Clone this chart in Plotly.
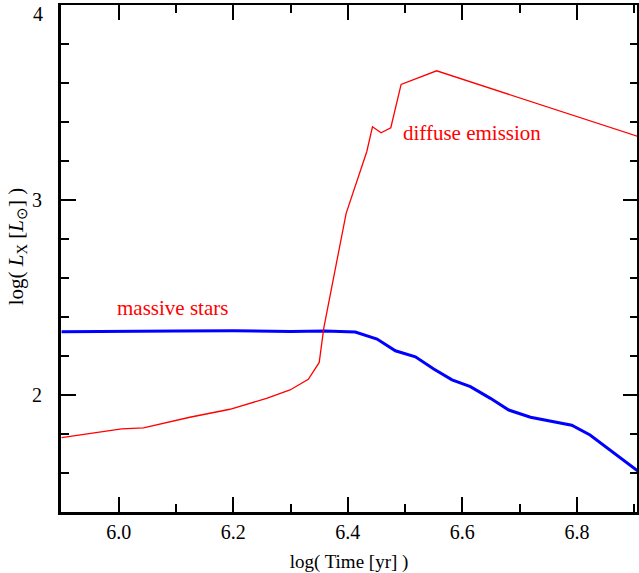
import plotly.graph_objects as go

# X-ray luminosity history of a young cluster
# log(time / yr) and log(L_X / L_sun) for each component

diffuse_logt = [5.900, 6.005, 6.043, 6.124, 6.194, 6.258, 6.299, 6.331, 6.350,
                6.358, 6.397, 6.407, 6.433, 6.443, 6.458, 6.475, 6.493, 6.555, 6.908]
diffuse_loglx = [1.782, 1.826, 1.831, 1.886, 1.927, 1.983, 2.026, 2.081, 2.167,
                 2.344, 2.932, 3.023, 3.248, 3.376, 3.345, 3.371, 3.593, 3.663, 3.325]

stars_logt = [5.900, 6.000, 6.100, 6.200, 6.300, 6.360, 6.413, 6.451, 6.483, 6.518,
              6.550, 6.582, 6.614, 6.649, 6.681, 6.719, 6.759, 6.791, 6.823, 6.858, 6.908]
stars_loglx = [2.325, 2.325, 2.328, 2.330, 2.326, 2.328, 2.323, 2.287, 2.227, 2.196,
               2.133, 2.078, 2.043, 1.983, 1.923, 1.886, 1.865, 1.845, 1.795, 1.718, 1.607]

y_tickvals = [2, 3, 4]
y_ticktext = ["2", "3", "4"]

x_range = [5.899, 6.905]
y_range = [1.4, 4.0005]

FONT = "Liberation Serif, Times New Roman, serif"

fig = go.Figure()

fig.add_trace(go.Scatter(x=stars_logt, y=stars_loglx, mode="lines",
                         line=dict(color="#0000ff", width=3), showlegend=False))
fig.add_trace(go.Scatter(x=diffuse_logt, y=diffuse_loglx, mode="lines",
                         line=dict(color="#ff0000", width=1.3), showlegend=False))
# empty trace so the mirrored top/right axes get drawn
fig.add_trace(go.Scatter(x=[], y=[], xaxis="x2", yaxis="y2", showlegend=False))

fig.add_annotation(x=6.093, y=2.445, xref="x", yref="y", text="massive stars",
                   showarrow=False, font=dict(family=FONT, size=21, color="#ff0000"))
fig.add_annotation(x=6.616, y=3.345, xref="x", yref="y", text="diffuse emission",
                   showarrow=False, font=dict(family=FONT, size=21, color="#ff0000"))

tick_font = dict(family=FONT, size=20, color="#000000")

# the top label sits just below its tick so it stays inside the figure
fig.add_annotation(x=0, xref="paper", y=y_tickvals[-1], yref="y",
                   text=y_ticktext[-1], showarrow=False,
                   xanchor="right", yanchor="middle", xshift=-16, yshift=-9,
                   font=tick_font)

# y-axis title, rotated, centred a little above the middle of the axis
fig.add_annotation(x=0, xref="paper", y=0.524, yref="paper",
                   text="log( <i>L</i><sub>X</sub> [<i>L</i><sub>⊙</sub>] )",
                   showarrow=False, textangle=-90,
                   xanchor="center", yanchor="middle", xshift=-44,
                   font=dict(family=FONT, size=21, color="#000000"))

fig.update_layout(
    width=639, height=573,
    margin=dict(l=61, r=2, t=5, b=61),
    paper_bgcolor="white", plot_bgcolor="white",
    font=dict(family=FONT, color="#000000"),
    xaxis=dict(
        range=x_range, showgrid=False, zeroline=False, automargin=False,
        showline=True, linecolor="black", linewidth=3,
        ticks="inside", ticklen=15, tickwidth=1.5, tickcolor="black",
        tick0=6.0, dtick=0.2, tickformat=".1f", tickfont=tick_font,
        ticklabeloverflow="allow", ticklabelstandoff=0,
        minor=dict(dtick=0.1, tick0=6.0, ticks="inside", ticklen=8,
                   tickwidth=1.5, tickcolor="black", showgrid=False),
        title=dict(text="log( Time [yr] )", font=dict(family=FONT, size=19),
                   standoff=15),
    ),
    yaxis=dict(
        range=y_range, showgrid=False, zeroline=False, automargin=False,
        showline=True, linecolor="black", linewidth=3,
        ticks="inside", ticklen=15, tickwidth=1.5, tickcolor="black",
        tickvals=y_tickvals, ticktext=y_ticktext[:-1] + [""],
        tickfont=tick_font, ticklabelstandoff=12,
        minor=dict(dtick=0.2, tick0=0, ticks="inside", ticklen=8,
                   tickwidth=1.5, tickcolor="black", showgrid=False),
    ),
    xaxis2=dict(
        range=x_range, overlaying="x", side="top", anchor="y2", automargin=False,
        showgrid=False, zeroline=False, showticklabels=False,
        showline=True, linecolor="black", linewidth=2,
        ticks="inside", ticklen=15, tickwidth=1.5, tickcolor="black",
        tick0=6.0, dtick=0.2,
        minor=dict(dtick=0.1, tick0=6.0, ticks="inside", ticklen=8,
                   tickwidth=1.5, tickcolor="black", showgrid=False),
    ),
    yaxis2=dict(
        range=y_range, overlaying="y", side="right", anchor="x2", automargin=False,
        showgrid=False, zeroline=False, showticklabels=False,
        showline=True, linecolor="black", linewidth=2,
        ticks="inside", ticklen=14, tickwidth=1.5, tickcolor="black",
        tick0=0, dtick=1,
        minor=dict(dtick=0.2, tick0=0, ticks="inside", ticklen=7,
                   tickwidth=1.5, tickcolor="black", showgrid=False),
    ),
)

fig.write_html("out.html")
